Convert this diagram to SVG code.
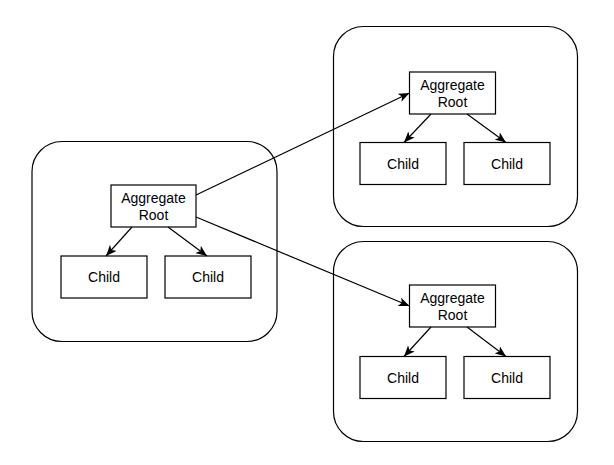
<svg xmlns="http://www.w3.org/2000/svg" width="614" height="465" viewBox="0 0 614 465">
<defs>
<style>
.container{fill:#ffffff;stroke:#000000;stroke-width:1.2}
.box{fill:#ffffff;stroke:#000000;stroke-width:1.2}
.lbl{font-family:"Liberation Sans",Arial,sans-serif;font-size:14px;fill:#000000;text-anchor:middle}
.edge{fill:none;stroke:#000000;stroke-width:1.2}
</style>
<marker id="arr" viewBox="0 0 11 9" refX="11" refY="4.5" markerWidth="11" markerHeight="9" markerUnits="userSpaceOnUse" orient="auto">
<path d="M0,0 L11,4.5 L0,9 L2.8,4.5 Z" fill="#000000"/>
</marker>
</defs>
<rect width="614" height="465" fill="#ffffff"/>

<g id="container-left">
<rect class="container" x="32" y="141.5" width="245" height="200" rx="30" ry="30"/>
</g>
<g id="container-top">
<rect class="container" x="333.5" y="26.5" width="244" height="200" rx="30" ry="30"/>
</g>
<g id="container-bottom">
<rect class="container" x="333.5" y="241.5" width="244" height="200" rx="30" ry="30"/>
</g>

<g id="root-left">
<rect class="box" x="111" y="185" width="85" height="42"/>
<text class="lbl" x="153.5" y="203">Aggregate</text>
<text class="lbl" x="153.5" y="220">Root</text>
</g>
<g id="child-left-1">
<rect class="box" x="61" y="256" width="86" height="42"/>
<text class="lbl" x="104" y="282">Child</text>
</g>
<g id="child-left-2">
<rect class="box" x="165" y="256" width="86" height="42"/>
<text class="lbl" x="208" y="282">Child</text>
</g>

<g id="root-top">
<rect class="box" x="409.5" y="72" width="86" height="42"/>
<text class="lbl" x="452.5" y="90">Aggregate</text>
<text class="lbl" x="452.5" y="107">Root</text>
</g>
<g id="child-top-1">
<rect class="box" x="360" y="142.5" width="86" height="42"/>
<text class="lbl" x="403" y="168.5">Child</text>
</g>
<g id="child-top-2">
<rect class="box" x="464" y="142.5" width="86" height="42"/>
<text class="lbl" x="507" y="168.5">Child</text>
</g>

<g id="root-bottom">
<rect class="box" x="409.5" y="285" width="86" height="42"/>
<text class="lbl" x="452.5" y="303">Aggregate</text>
<text class="lbl" x="452.5" y="320">Root</text>
</g>
<g id="child-bottom-1">
<rect class="box" x="360" y="356.5" width="86" height="42"/>
<text class="lbl" x="403" y="382.5">Child</text>
</g>
<g id="child-bottom-2">
<rect class="box" x="464" y="356.5" width="86" height="42"/>
<text class="lbl" x="507" y="382.5">Child</text>
</g>

<g id="connectors">
<line class="edge" x1="132" y1="227" x2="106" y2="256" marker-end="url(#arr)"/>
<line class="edge" x1="168" y1="227" x2="207" y2="256" marker-end="url(#arr)"/>
<line class="edge" x1="196" y1="195" x2="409.5" y2="93" marker-end="url(#arr)"/>
<line class="edge" x1="196" y1="217" x2="409.5" y2="306" marker-end="url(#arr)"/>
<line class="edge" x1="431" y1="114" x2="404" y2="142.5" marker-end="url(#arr)"/>
<line class="edge" x1="467" y1="114" x2="506" y2="142.5" marker-end="url(#arr)"/>
<line class="edge" x1="431" y1="327" x2="404" y2="356.5" marker-end="url(#arr)"/>
<line class="edge" x1="467" y1="327" x2="506" y2="356.5" marker-end="url(#arr)"/>
</g>
</svg>
